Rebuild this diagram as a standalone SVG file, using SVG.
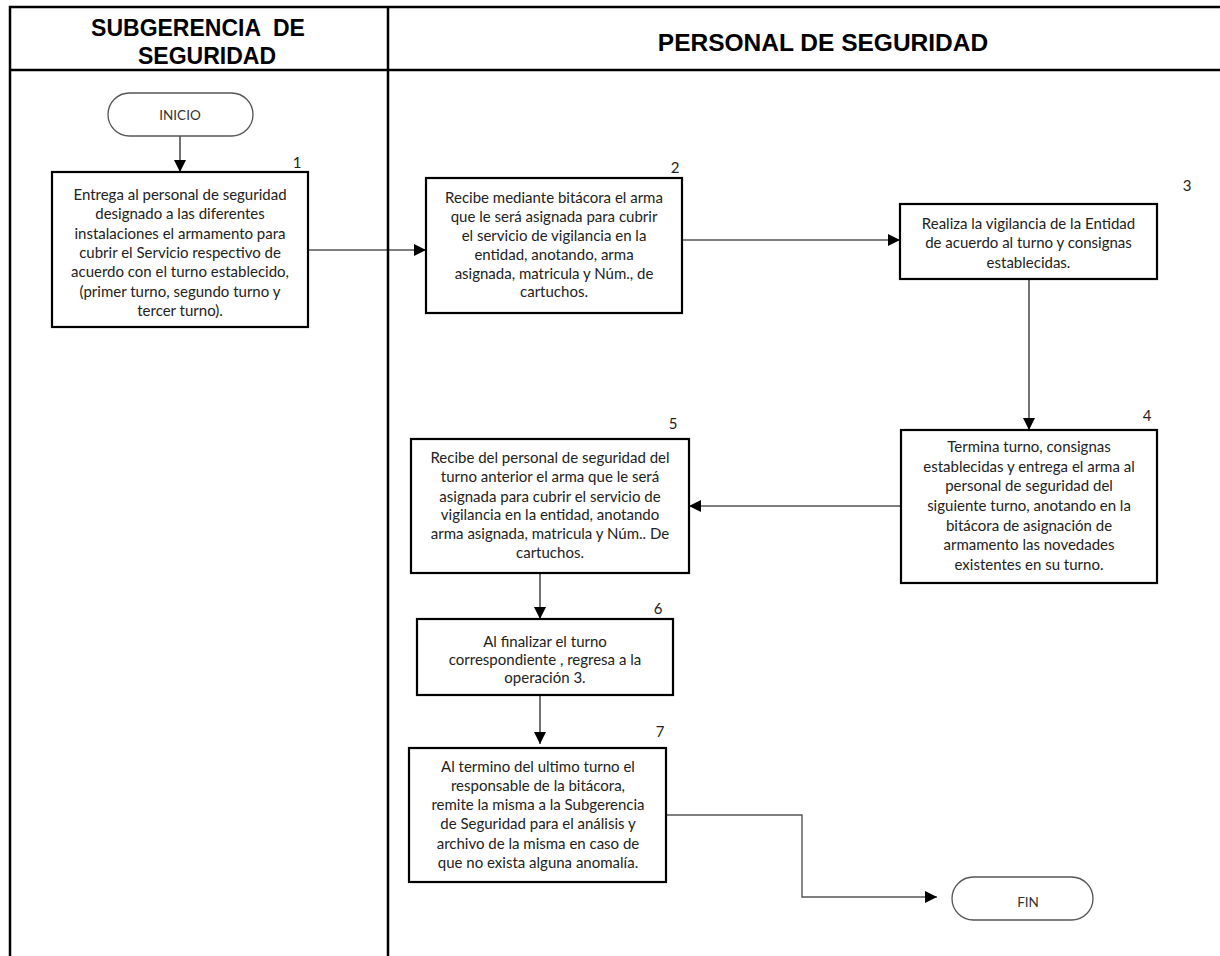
<svg xmlns="http://www.w3.org/2000/svg" width="1220" height="956" viewBox="0 0 1220 956">
<defs>
<style>
.frame{stroke:#000;stroke-width:2.5;fill:none}
.box{fill:#fff;stroke:#000;stroke-width:2.2}
.term{fill:#fff;stroke:#555;stroke-width:1.3}
.t{font-family:Lato,"Liberation Sans",sans-serif;font-size:15px;fill:#222;text-anchor:middle}
.n{font-family:Lato,"Liberation Sans",sans-serif;font-size:15px;fill:#222;text-anchor:middle}
.tt{font-family:Lato,"Liberation Sans",sans-serif;font-size:13.5px;fill:#333;text-anchor:middle}
.h{font-family:"Liberation Sans",Arial,sans-serif;font-weight:bold;font-size:23px;fill:#000;text-anchor:middle}
.c{stroke:#000;stroke-width:1.1;fill:none}
.cg{stroke:#555;stroke-width:1.4;fill:none}
</style>
<marker id="ah" markerUnits="userSpaceOnUse" markerWidth="13" markerHeight="12" refX="12" refY="6" orient="auto">
<path d="M0,0 L12,6 L0,12 z" fill="#000"/>
</marker>
</defs>
<rect width="1220" height="956" fill="#fff"/>
<g id="lanes">
<path class="frame" d="M10,956 V7 H1220 M10,70 H1220 M388,7 V956"/>
<text class="h" x="198" y="36" xml:space="preserve">SUBGERENCIA  DE</text>
<text class="h" x="207" y="64">SEGURIDAD</text>
<text class="h" x="823" y="51" style="font-size:24.5px">PERSONAL DE SEGURIDAD</text>
</g>
<g id="connectors">
<path class="c" d="M180,136 V172" marker-end="url(#ah)"/>
<path class="c" d="M308,250 H426" marker-end="url(#ah)"/>
<path class="c" d="M682,240 H900" marker-end="url(#ah)"/>
<path class="c" d="M1029,279 V430" marker-end="url(#ah)"/>
<path class="c" d="M901,506 H689" marker-end="url(#ah)"/>
<path class="c" d="M540,573 V619" marker-end="url(#ah)"/>
<path class="c" d="M540,695 V744" marker-end="url(#ah)"/>
<path class="cg" d="M666,815 H802 V897 H937" marker-end="url(#ah)"/>
</g>
<g id="inicio">
<rect class="term" x="108" y="93" width="145" height="43" rx="21.5"/>
<text class="tt" x="180" y="120">INICIO</text>
</g>
<g id="step1">
<rect class="box" x="52" y="172" width="256" height="155"/>
<text class="n" x="297" y="168">1</text>
<text class="t" x="180" y="200">Entrega al personal de seguridad</text>
<text class="t" x="180" y="219.3">designado a las diferentes</text>
<text class="t" x="180" y="238.6">instalaciones el armamento para</text>
<text class="t" x="180" y="258">cubrir el Servicio respectivo de</text>
<text class="t" x="180" y="277.3">acuerdo con el turno establecido,</text>
<text class="t" x="180" y="296.6">(primer turno, segundo turno y</text>
<text class="t" x="180" y="316">tercer turno).</text>
</g>
<g id="step2">
<rect class="box" x="426" y="178" width="256" height="135"/>
<text class="n" x="675" y="173">2</text>
<text class="t" x="554" y="203">Recibe mediante bitácora el arma</text>
<text class="t" x="554" y="222">que le será asignada para cubrir</text>
<text class="t" x="554" y="241">el servicio de vigilancia en la</text>
<text class="t" x="554" y="260">entidad, anotando, arma</text>
<text class="t" x="554" y="279">asignada, matricula y Núm., de</text>
<text class="t" x="554" y="297">cartuchos.</text>
</g>
<g id="step3">
<rect class="box" x="900" y="204" width="257" height="75"/>
<text class="n" x="1187" y="191">3</text>
<text class="t" x="1028.5" y="229">Realiza la vigilancia de la Entidad</text>
<text class="t" x="1028.5" y="248">de acuerdo al turno y consignas</text>
<text class="t" x="1028.5" y="268">establecidas.</text>
</g>
<g id="step4">
<rect class="box" x="901" y="430" width="256" height="153"/>
<text class="n" x="1147" y="421">4</text>
<text class="t" x="1029" y="452">Termina turno, consignas</text>
<text class="t" x="1029" y="472">establecidas y entrega el arma al</text>
<text class="t" x="1029" y="491">personal de seguridad del</text>
<text class="t" x="1029" y="511">siguiente turno, anotando en la</text>
<text class="t" x="1029" y="531">bitácora de asignación de</text>
<text class="t" x="1029" y="550">armamento las novedades</text>
<text class="t" x="1029" y="570">existentes en su turno.</text>
</g>
<g id="step5">
<rect class="box" x="411" y="439" width="278" height="134"/>
<text class="n" x="673" y="429">5</text>
<text class="t" x="550" y="463">Recibe del personal de seguridad del</text>
<text class="t" x="550" y="482">turno anterior el arma  que le será</text>
<text class="t" x="550" y="501.5">asignada para cubrir el servicio de</text>
<text class="t" x="550" y="520">vigilancia en la entidad, anotando</text>
<text class="t" x="550" y="539">arma asignada, matricula y Núm.. De</text>
<text class="t" x="550" y="558">cartuchos.</text>
</g>
<g id="step6">
<rect class="box" x="417" y="619" width="256" height="76"/>
<text class="n" x="658" y="614">6</text>
<text class="t" x="545" y="647">Al finalizar el turno</text>
<text class="t" x="545" y="665">correspondiente , regresa a la</text>
<text class="t" x="545" y="683">operación 3.</text>
</g>
<g id="step7">
<rect class="box" x="409" y="748" width="257" height="134"/>
<text class="n" x="660" y="737">7</text>
<text class="t" x="538" y="772">Al termino del ultimo turno  el</text>
<text class="t" x="538" y="791">responsable de la bitácora,</text>
<text class="t" x="538" y="810">remite la misma a la Subgerencia</text>
<text class="t" x="538" y="829">de Seguridad para el análisis y</text>
<text class="t" x="538" y="849">archivo de la misma en caso de</text>
<text class="t" x="538" y="868">que no exista alguna anomalía.</text>
</g>
<g id="fin">
<rect class="term" x="952" y="877" width="141" height="43" rx="21.5"/>
<text class="tt" x="1028" y="907">FIN</text>
</g>
</svg>
